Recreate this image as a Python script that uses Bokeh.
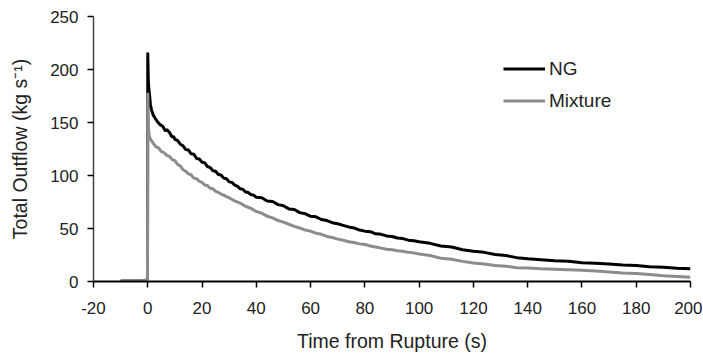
from bokeh.plotting import figure
from bokeh.models import Range1d, FixedTicker, Legend, LegendItem
from bokeh.embed import file_html
from bokeh.resources import INLINE

# Time (s) and total outflow (kg/s)
ng_time = [-10, -2, -0.5, -0.1, 0, 0.2, 0.4, 0.7, 1, 1.5, 2, 2.7, 3.5, 4.5, 5.5, 6.5, 7, 8, 9, 9.5,
           10, 11, 12, 13, 14, 15, 16, 17, 18, 19, 20, 21, 22, 23, 24, 25, 26, 27, 28, 29,
           30, 31, 32, 33, 34, 35, 36, 37, 38, 39, 40, 42, 44, 46, 48, 50, 52, 54, 56, 58,
           60, 62, 64, 66, 68, 70, 72, 74, 76, 78, 80, 82, 84, 86, 88, 90, 92, 94, 96, 98,
           100, 104, 108, 112, 116, 120, 124, 128, 132, 136, 140, 145, 150, 155, 160, 165,
           170, 175, 180, 185, 190, 195, 200]
ng_flow = [0.5, 0.5, 1, 3, 216, 190, 182, 175, 166, 161, 157, 154, 151, 148, 146.5, 142, 143.5, 140.5, 136, 137,
           134, 133, 129.5, 128, 124.5, 124, 120.5, 120, 116, 115.5, 112.5, 112, 108.5, 107.5, 104.5, 104, 101, 100.5, 97.5, 97,
           94, 93.5, 91, 90, 87.5, 87, 84.5, 84, 82, 81.5, 79.5, 79, 76, 75.5, 72.5, 71.5, 68.5, 68, 65, 64,
           61.5, 61, 58.5, 57.5, 55.5, 54.5, 53, 51.5, 50.5, 48.5, 47.5, 47, 45, 44.5, 43, 42.5, 41, 40.5, 39, 38.5,
           37.5, 36, 33.5, 32.5, 30, 28.5, 27.5, 25.5, 24.5, 22.5, 21.5, 20.5, 19.5, 19, 17.8, 17.3,
           16.5, 15.5, 15, 14, 13.5, 12.5, 12]

mix_time = [-10, -2, -0.5, -0.1, 0, 0.2, 0.4, 0.7, 1, 2, 3, 4, 5, 6, 7, 8, 9,
            10, 11, 12, 13, 14, 15, 16, 17, 18, 19, 20, 21, 22, 23, 24, 25, 26, 27, 28, 29,
            30, 32, 34, 36, 38, 40, 42, 44, 46, 48, 50, 52, 54, 56, 58,
            60, 62, 64, 66, 68, 70, 72, 74, 76, 78, 80, 82, 84, 86, 88, 90, 92, 94, 96, 98,
            100, 104, 108, 112, 116, 120, 124, 128, 132, 136, 140, 145, 150, 155, 160, 165,
            170, 175, 180, 185, 190, 195, 200]
mix_flow = [0.5, 0.5, 1, 3, 178, 150, 140, 136, 134, 130.5, 127, 126, 122.5, 121.5, 119, 118, 115,
            114, 110.5, 109, 105.5, 104, 101.5, 100.5, 97.5, 97, 94.5, 93.5, 91, 90.5, 88, 87.5, 85, 84, 82.5, 81.5, 80,
            79, 76, 74, 71, 69, 66, 64.5, 61.5, 60, 57.5, 56, 54, 52, 50.5, 48.5,
            47.5, 45.5, 44.5, 42.5, 41.5, 40, 39, 37.5, 36.8, 35.5, 35, 33.5, 32.5, 31.5, 30.5, 30, 29, 28.5, 27.5, 27,
            26, 24.5, 22, 21, 19, 17.5, 16.5, 15, 14.5, 13, 12.7, 12, 11.5, 11, 10.5, 9.8,
            9, 8, 7.5, 6.5, 5.5, 4.8, 4]

x_ticks = [-20, 0, 20, 40, 60, 80, 100, 120, 140, 160, 180, 200]
y_ticks = [0, 50, 100, 150, 200, 250]

p = figure(width=702, height=354, output_backend="svg", toolbar_location=None,
           x_range=Range1d(-20, 200), y_range=Range1d(0, 250),
           min_border_left=93, min_border_right=12, min_border_top=16, min_border_bottom=73)
p.outline_line_color = None
p.xgrid.visible = False
p.ygrid.visible = False

r_ng = p.line(ng_time, ng_flow, line_color="black", line_width=3)
r_mix = p.line(mix_time, mix_flow, line_color="#8c8c8c", line_width=3)

font = "Liberation Sans"
for ax in (p.xaxis[0], p.yaxis[0]):
    ax.major_label_text_font = font
    ax.major_label_text_font_size = "17px"
    ax.major_label_text_color = "#222222"
    ax.axis_label_text_font = font
    ax.axis_label_text_font_size = "19.5px"
    ax.axis_label_text_font_style = "normal"
    ax.axis_label_text_color = "#222222"
    ax.minor_tick_line_color = None
    ax.major_tick_in = 0
    ax.major_tick_out = 6
    ax.major_tick_line_color = "black"
    ax.major_tick_line_width = 1.5

p.xaxis.ticker = FixedTicker(ticks=x_ticks)
p.yaxis.ticker = FixedTicker(ticks=y_ticks)
p.xaxis.major_label_overrides = {-20: "-20"}
p.xaxis.axis_label = "Time from Rupture (s)"
p.yaxis.axis_label = "Total Outflow (kg s\u207b\u00b9)"
p.xaxis.axis_line_color = "black"
p.xaxis.axis_line_width = 2
p.yaxis.axis_line_color = "#444444"
p.yaxis.axis_line_width = 1.5
p.xaxis.major_label_standoff = 14
p.xaxis.axis_label_standoff = 13
p.yaxis.major_label_standoff = 9
p.yaxis.axis_label_standoff = 16

legend = Legend(items=[LegendItem(label="NG", renderers=[r_ng]),
                       LegendItem(label="Mixture", renderers=[r_mix])],
                location=(410, 169), orientation="vertical")
legend.border_line_color = None
legend.background_fill_alpha = 0
legend.padding = 0
legend.margin = 0
legend.spacing = 9
legend.glyph_width = 42
legend.glyph_height = 23
legend.label_standoff = 4
legend.label_text_font = font
legend.label_text_font_size = "19px"
legend.label_text_color = "#222222"
p.add_layout(legend, "center")

open("out.html", "w").write(file_html(p, INLINE))
